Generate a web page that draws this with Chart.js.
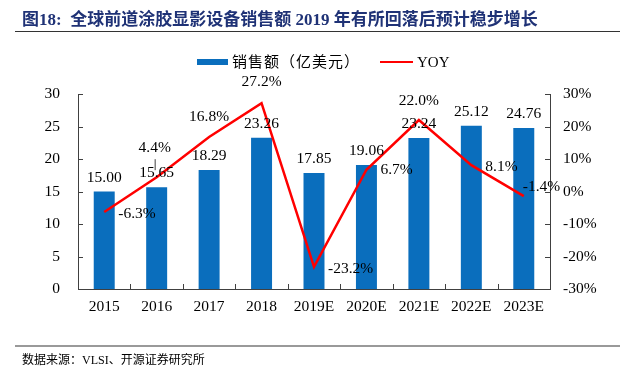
<!DOCTYPE html>
<html>
<head>
<meta charset="utf-8">
<script src="https://cdn.jsdelivr.net/npm/chart.js@4.4.1/dist/chart.umd.min.js"></script>
<style>
    body { margin: 0; width: 633px; height: 380px; background: #fff; position: relative; overflow: hidden;
           font-family: "Liberation Serif", "Noto Sans CJK SC", serif; }
    #chartBox { position: absolute; left: 0; top: 0; width: 633px; height: 380px; }
    #title { position: absolute; left: 22px; top: 5px; font-size: 17px; font-weight: bold; color: #1F3276; white-space: nowrap; }
    #titleLine { position: absolute; left: 15px; top: 31px; width: 605px; height: 1px; background: #333; }
    #footLine { position: absolute; left: 15px; top: 345px; width: 605px; height: 2px; background: #999; }
    #source { position: absolute; left: 22px; top: 350px; font-size: 12px; color: #000; white-space: nowrap; }
    .legend { position: absolute; top: 52px; font-size: 15px; color: #000; white-space: nowrap; line-height: 20px; }
    .swatch { position: absolute; }
</style>
</head>
<body>
<div id="chartBox"><canvas id="salesChart" width="633" height="380"></canvas></div>
<div id="title">图18:&nbsp;&nbsp;全球前道涂胶显影设备销售额 2019 年有所回落后预计稳步增长</div>
<div id="titleLine"></div>
<div class="swatch" style="left:197px;top:59px;width:31px;height:6px;background:#0A6EBD;"></div>
<div class="legend" style="left:232px;letter-spacing:1px;">销售额（亿美元）</div>
<div class="swatch" style="left:380px;top:61px;width:33px;height:2px;background:#FF0000;"></div>
<div class="legend" style="left:417px;">YOY</div>
<div id="footLine"></div>
<div id="source">数据来源：VLSI、开源证券研究所</div>

<script>
// chart data
const years = ['2015', '2016', '2017', '2018', '2019E', '2020E', '2021E', '2022E', '2023E'];
const sales = [15.00, 15.65, 18.29, 23.26, 17.85, 19.06, 23.24, 25.12, 24.76];
const yoy = [-6.3, 4.4, 16.8, 27.2, -23.2, 6.7, 22.0, 8.1, -1.4];

// where each YOY label sits relative to its point: [align, dx, dy, leader]
const yoyLabelPos = [
    ['left', 14, 2], ['center', -2, -29, true], ['center', 0, -20], ['center', 0, -21],
    ['left', 14, 2], ['left', 14, 0], ['center', 0, -19], ['left', 14, 2], ['left', -1, -9]
];

const labelFont = '15.5px "Liberation Serif", serif';

// Inner tick marks + value labels
const decorPlugin = {
    id: 'decor',
    afterDatasetsDraw(chart) {
        const ctx = chart.ctx;
        const area = chart.chartArea;
        const y = chart.scales.y, y1 = chart.scales.y1;

        ctx.save();
        ctx.strokeStyle = '#404040';
        ctx.lineWidth = 1;
        ctx.beginPath();
        y.ticks.forEach(t => {
            const py = Math.round(y.getPixelForValue(t.value)) + 0.5;
            ctx.moveTo(area.left, py); ctx.lineTo(area.left + 5, py);
        });
        y1.ticks.forEach(t => {
            const py = Math.round(y1.getPixelForValue(t.value)) + 0.5;
            ctx.moveTo(area.right - 5, py); ctx.lineTo(area.right, py);
        });
        const step = (area.right - area.left) / years.length;
        for (let i = 1; i < years.length; i++) {
            const px = Math.round(area.left + step * i) + 0.5;
            ctx.moveTo(px, area.bottom); ctx.lineTo(px, area.bottom - 5);
        }
        ctx.stroke();

        ctx.fillStyle = '#000';
        ctx.font = labelFont;
        ctx.textBaseline = 'middle';

        // bar values
        ctx.textAlign = 'center';
        chart.getDatasetMeta(0).data.forEach((bar, i) => {
            ctx.fillText(sales[i].toFixed(2), bar.x, bar.y - 14);
        });

        // yoy values
        chart.getDatasetMeta(1).data.forEach((pt, i) => {
            const [align, dx, dy, leader] = yoyLabelPos[i];
            ctx.textAlign = align;
            ctx.fillText(yoy[i].toFixed(1) + '%', pt.x + dx, pt.y + dy);
            if (leader) {
                ctx.beginPath();
                ctx.moveTo(pt.x - 1.5, pt.y + dy + 11);
                ctx.lineTo(pt.x - 1.5, pt.y + dy + 22);
                ctx.stroke();
            }
        });
        ctx.restore();
    }
};

const tickFont = { family: '"Liberation Serif", serif', size: 15.5 };

new Chart(document.getElementById('salesChart'), {
    data: {
        labels: years,
        datasets: [
            {
                type: 'line',
                label: 'YOY',
                data: yoy,
                yAxisID: 'y1',
                borderColor: '#FF0000',
                borderWidth: 2.5,
                pointRadius: 0,
                tension: 0,
                order: 0
            },
            {
                type: 'bar',
                label: '销售额（亿美元）',
                data: sales,
                yAxisID: 'y',
                backgroundColor: '#0A6EBD',
                categoryPercentage: 1,
                barPercentage: 0.4,
                order: 1
            }
        ].reverse()
    },
    options: {
        responsive: false,
        animation: false,
        layout: { padding: { top: 94, left: 0, right: 0, bottom: 0 } },
        plugins: { legend: { display: false }, tooltip: { enabled: false } },
        scales: {
            x: {
                grid: { display: false, drawTicks: false },
                border: { display: true, color: '#404040', width: 1 },
                ticks: { color: '#000', font: tickFont, padding: 9, maxRotation: 0 },
                afterFit(scale) { scale.height = 91; }
            },
            y: {
                position: 'left',
                min: 0, max: 30,
                grid: { display: false, drawTicks: false },
                border: { display: true, color: '#404040', width: 1 },
                ticks: { stepSize: 5, color: '#000', font: tickFont, padding: 18 },
                afterFit(scale) { scale.width = 78; }
            },
            y1: {
                position: 'right',
                min: -30, max: 30,
                grid: { display: false, drawTicks: false },
                border: { display: true, color: '#404040', width: 1 },
                ticks: { stepSize: 10, color: '#000', font: tickFont, padding: 13,
                         callback: v => v + '%' },
                afterFit(scale) { scale.width = 83; }
            }
        }
    },
    plugins: [decorPlugin]
});
</script>
</body>
</html>
